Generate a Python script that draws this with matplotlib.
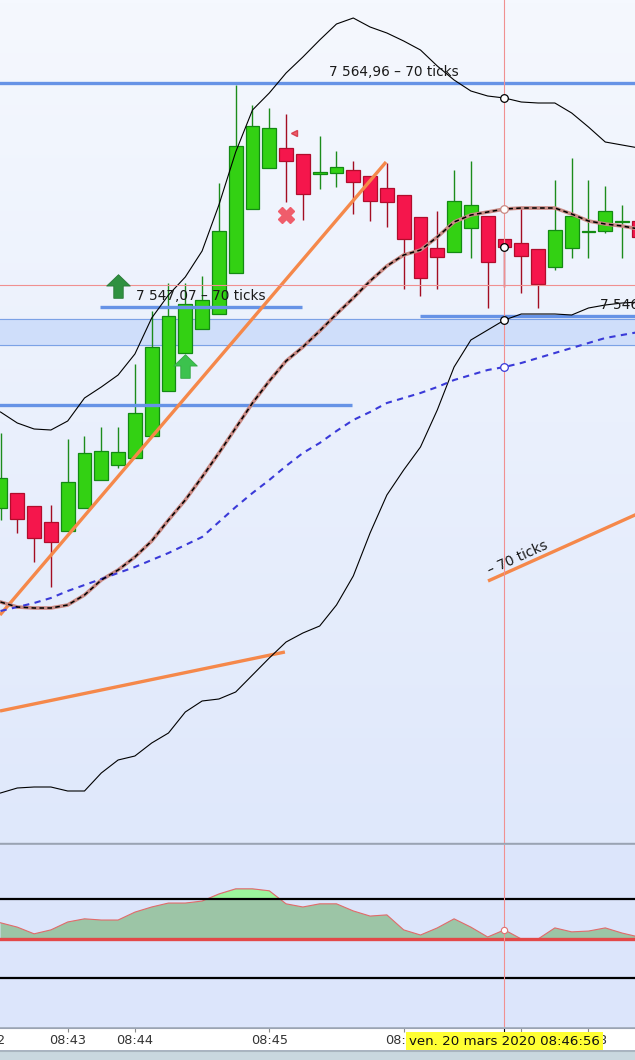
import numpy as np
import matplotlib
matplotlib.use('Agg')
import matplotlib.pyplot as plt
from matplotlib.path import Path
from matplotlib.patches import Rectangle
from matplotlib.colors import LinearSegmentedColormap

plt.rcParams['font.family'] = ['DejaVu Sans']

# ---------------- data ----------------
opens = [7530.96, 7532.16, 7531.12, 7529.84, 7529.12, 7530.96, 7533.20, 7534.40, 7534.96, 7536.72,
         7540.32, 7543.36, 7545.28, 7546.48, 7549.76, 7554.88, 7558.16, 7559.76, 7559.28, 7557.68,
         7557.76, 7558.00, 7557.52, 7556.56, 7556.00, 7554.24, 7551.76, 7551.44, 7553.36, 7554.32,
         7552.48, 7552.16, 7551.68, 7550.24, 7551.76, 7553.04, 7553.12, 7553.84, 7553.92]
highs = [7536.96, 7532.16, 7531.12, 7531.20, 7536.48, 7536.72, 7537.44, 7537.44, 7542.48, 7546.72,
         7548.96, 7548.96, 7549.52, 7556.96, 7564.80, 7563.20, 7562.96, 7562.48, 7559.28, 7560.72,
         7559.52, 7558.72, 7557.52, 7558.56, 7556.00, 7554.24, 7554.72, 7558.00, 7558.72, 7554.32,
         7552.48, 7554.96, 7551.68, 7557.20, 7558.96, 7557.20, 7556.72, 7555.20, 7553.92]
lows = [7530.00, 7528.96, 7526.64, 7524.64, 7529.12, 7530.96, 7533.20, 7534.16, 7534.96, 7536.72,
        7540.32, 7543.36, 7545.28, 7546.48, 7549.76, 7554.88, 7558.16, 7555.44, 7554.00, 7556.48,
        7556.64, 7554.48, 7553.92, 7553.44, 7548.48, 7547.92, 7548.48, 7551.44, 7550.96, 7546.96,
        7548.64, 7548.16, 7546.96, 7550.00, 7550.96, 7550.96, 7552.96, 7550.96, 7552.40]
closes = [7533.36, 7530.08, 7528.56, 7528.24, 7533.04, 7535.36, 7535.52, 7535.44, 7538.56, 7543.84,
          7546.32, 7547.28, 7547.60, 7553.12, 7559.92, 7561.52, 7561.36, 7558.72, 7556.08, 7557.84,
          7558.24, 7557.04, 7555.52, 7555.44, 7552.48, 7549.36, 7551.04, 7555.52, 7555.20, 7550.64,
          7551.84, 7551.12, 7548.88, 7553.20, 7554.32, 7553.12, 7554.72, 7553.92, 7552.64]

bb_upper = [7538.64, 7537.76, 7537.28, 7537.20, 7537.92, 7539.76, 7540.64, 7541.60, 7543.28, 7546.16,
            7548.00, 7549.44, 7551.52, 7555.20, 7559.44, 7562.80, 7564.16, 7565.76, 7567.04, 7568.40,
            7569.68, 7570.16, 7569.44, 7568.96, 7568.32, 7567.60, 7566.32, 7565.20, 7564.32, 7563.92,
            7563.76, 7563.44, 7563.36, 7563.36, 7562.56, 7561.44, 7560.24, 7560.00, 7559.76]
bb_mid = [7523.44, 7523.04, 7522.96, 7522.96, 7523.20, 7524.00, 7525.20, 7526.00, 7527.04, 7528.32,
          7530.00, 7531.60, 7533.44, 7535.36, 7537.36, 7539.36, 7541.12, 7542.72, 7543.84, 7545.12,
          7546.48, 7547.76, 7549.12, 7550.32, 7551.20, 7551.60, 7552.64, 7553.84, 7554.40, 7554.64,
          7554.88, 7554.96, 7554.96, 7554.96, 7554.48, 7553.92, 7553.68, 7553.52, 7553.28]
bb_lower = [7508.16, 7508.56, 7508.64, 7508.64, 7508.32, 7508.32, 7509.76, 7510.80, 7511.12, 7512.16,
            7512.96, 7514.64, 7515.52, 7515.68, 7516.24, 7517.60, 7518.96, 7520.24, 7520.96, 7521.52,
            7523.20, 7525.52, 7528.96, 7532.00, 7534.00, 7535.84, 7538.80, 7542.24, 7544.40, 7545.20,
            7546.00, 7546.48, 7546.48, 7546.48, 7546.40, 7546.96, 7547.20, 7547.36, 7547.44]
ma_slow = [7522.72, 7523.04, 7523.36, 7523.76, 7524.32, 7524.80, 7525.28, 7525.76, 7526.24, 7526.80,
           7527.36, 7528.00, 7528.64, 7529.84, 7531.04, 7532.16, 7533.20, 7534.32, 7535.36, 7536.16,
           7537.12, 7538.00, 7538.64, 7539.36, 7539.76, 7540.16, 7540.64, 7541.20, 7541.60, 7542.00,
           7542.24, 7542.56, 7542.96, 7543.36, 7543.76, 7544.16, 7544.56, 7544.80, 7545.04]
osc = [41, 30, 13, 23, 43, 51, 48, 48, 68, 81,
       91, 91, 96, 114, 127, 127, 122, 89, 81, 89,
       89, 71, 58, 61, 23, 10, 28, 51, 30, 5,
       23, 0, 0, 28, 18, 20, 28, 15, 5]

level_price = [7564.96, 7547.07, 7539.20, 7546.32]
level_from = [-2.0, 5.92, -2.0, 24.97]
level_to = [60.0, 17.95, 20.92, 60.0]
level_text = ['7 564,96 – 70 ticks', '7 547,07 – 70 ticks', '', '7 546,32 – 70 ticks']
level_text_x = [23.4, 11.94, 0.0, 39.55]

zone_low = 7544.00
zone_high = 7546.08

trend_x0 = [-0.03, -0.03, 29.02]
trend_y0 = [7522.40, 7514.72, 7525.12]
trend_x1 = [22.95, 16.93, 37.9]
trend_y1 = [7558.64, 7519.44, 7530.48]
trend_text = '– 70 ticks'
trend_text_x = 30.8
trend_text_y = 7527.0

buy_x = [7, 11]
buy_y = [7548.72, 7542.32]
exit_x = [17]
exit_y = [7554.40]
flag_x = [17.45]
flag_y = [7560.96]

cursor_bar = 30
cursor_price = 7548.80
osc_levels = [100, -100]

tick_pos = [-0.8, 4, 8, 16, 24, 31, 35]
tick_labels = ['08:42', '08:43', '08:44', '08:45', '08:46', '', '08:48']
cursor_label = 'ven. 20 mars 2020 08:46:56'

# ---------------- figure ----------------
W, H = 635, 1060
fig = plt.figure(figsize=(W / 100, H / 100), dpi=100)
fig.patch.set_facecolor('#a9b3c2')

XL = (-0.03, 37.77)
ax = fig.add_axes([0, (H - 843) / H, 1, 843 / H])
ai = fig.add_axes([0, (H - 1027) / H, 1, 182 / H])
axx = fig.add_axes([0, (H - 1050) / H, 1, 22 / H])
abar = fig.add_axes([0, 0, 1, 9 / H])

for a in (ax, ai, axx, abar):
    a.set_xlim(*XL)
    a.set_xticks([])
    a.set_yticks([])
    for s in a.spines.values():
        s.set_visible(False)

YL = (7504.16, 7571.6)
ax.set_ylim(*YL)

# gradient background
cmap = LinearSegmentedColormap.from_list('bg', ['#dfe8fb', '#f5f8fe'])
grad = np.linspace(0, 1, 256).reshape(-1, 1)
ax.imshow(grad, extent=[XL[0], XL[1], YL[0], YL[1]], origin='lower', aspect='auto',
          cmap=cmap, zorder=0)
ax.set_xlim(*XL)
ax.set_ylim(*YL)

x = np.arange(len(opens))
o = np.array(opens); h = np.array(highs); l = np.array(lows); c = np.array(closes)
up = c >= o

# zone
ax.axhspan(zone_low, zone_high, color='#cfdefa', zorder=1)
ax.axhline(zone_low, color='#7ba2e6', lw=0.8, zorder=1.1)
ax.axhline(zone_high, color='#7ba2e6', lw=0.8, zorder=1.1)

# candles
wick_col = np.where(up, '#1c8c1c', '#a30d22')
ax.vlines(x, l, h, colors=wick_col, lw=1.0, zorder=3)
body_bottom = np.minimum(o, c)
body_h = np.maximum(np.abs(c - o), 0.09)
ax.bar(x[up], body_h[up], bottom=body_bottom[up], width=0.82, color='#33d113',
       edgecolor='#138a13', linewidth=0.9, zorder=4)
ax.bar(x[~up], body_h[~up], bottom=body_bottom[~up], width=0.82, color='#f5164c',
       edgecolor='#b00d2c', linewidth=0.9, zorder=4)

# levels
for p, a0, a1, t, tx in zip(level_price, level_from, level_to, level_text, level_text_x):
    ax.plot([a0, a1], [p, p], color='#6693e6', lw=2.4, zorder=5, solid_capstyle='butt')
    if t:
        ax.text(tx, p + 0.3, t, ha='center', va='bottom', fontsize=9.8, color='#1a1a1a',
                zorder=9, clip_on=True)

# trend lines
for x0, y0, x1, y1 in zip(trend_x0, trend_y0, trend_x1, trend_y1):
    ax.plot([x0, x1], [y0, y1], color='#f5884a', lw=2.4, zorder=6, solid_capstyle='butt')
ax.text(trend_text_x, trend_text_y, trend_text, rotation=24.5, rotation_mode='anchor',
        ha='center', va='center', fontsize=9.8, color='#1a1a1a', zorder=9)

# bands & averages
ax.plot(x, bb_upper, color='black', lw=0.8, zorder=7)
ax.plot(x, bb_lower, color='black', lw=0.8, zorder=7)
ax.plot(x, bb_mid, color='#c98a84', lw=2.6, zorder=7, solid_joinstyle='round')
ax.plot(x, bb_mid, color='black', lw=1.1, dashes=(3, 2.2), zorder=7.1)
ax.plot(x, ma_slow, color='#3a3ad8', lw=1.5, dashes=(3, 2.6), zorder=7)

# crosshair
ax.axhline(cursor_price, color='#f09090', lw=0.8, zorder=8)
ax.axvline(cursor_bar, color='#f09090', lw=0.8, zorder=8)
ai.axvline(cursor_bar, color='#f09090', lw=0.8, zorder=8)
k = cursor_bar
for val, ec in [(bb_upper[k], 'black'), (closes[k], 'black'), (bb_lower[k], 'black'),
                (bb_mid[k], '#c98a84'), (ma_slow[k], '#3a3ad8')]:
    ax.plot([k], [val], 'o', ms=5.5, mfc='white', mec=ec, mew=0.9, zorder=10)

# signals
arrow = Path([(-0.2, -0.5), (0.2, -0.5), (0.2, 0.02), (0.5, 0.02), (0.0, 0.5),
              (-0.5, 0.02), (-0.2, 0.02), (-0.2, -0.5)], closed=True)
ax.plot(buy_x[:1], buy_y[:1], ls='none', marker=arrow, ms=17, mfc='#2f9140', mec='#2a7a38',
        mew=0.6, zorder=9)
ax.plot(buy_x[1:], buy_y[1:], ls='none', marker=arrow, ms=17, mfc='#3cc24e', mec='#33a843',
        mew=0.6, zorder=9)
ax.plot(exit_x, exit_y, ls='none', marker='X', ms=11, mfc='#ef5d6b', mec='#ef5d6b', zorder=9)
ax.plot(flag_x, flag_y, ls='none', marker='<', ms=5, mfc='#ef5d6b', mec='#d8404f', zorder=9)

# main/indicator separator
ax.spines['bottom'].set_visible(True)
ax.spines['bottom'].set_color('#9aa3b3')
ax.spines['bottom'].set_linewidth(1.0)

# ---------------- indicator ----------------
ai.set_facecolor('#dce5fb')
ai.set_ylim(-223, 238)
v = np.array(osc, dtype=float)
ai.fill_between(x, 0, v, color='#9cc5a6', lw=0, zorder=2)
ai.fill_between(x, osc_levels[0], v, where=v > osc_levels[0], interpolate=True,
                color='#9cf59c', lw=0, zorder=2.1)
ai.plot(x, v, color='#e26a6a', lw=0.8, zorder=3)
for lv in osc_levels:
    ai.axhline(lv, color='black', lw=1.6, zorder=4)
ai.axhline(0, color='#e34848', lw=2.4, zorder=4)
ai.plot([cursor_bar], [osc[cursor_bar]], 'o', ms=4.5, mfc='white', mec='#e07070', mew=0.8, zorder=10)

# ---------------- x axis strip ----------------
axx.set_facecolor('white')
axx.set_ylim(0, 1)
axx.spines['top'].set_visible(True)
axx.spines['top'].set_color('#9aa3b3')
axx.vlines(tick_pos[1:], 0.8, 1.0, colors='#8a8a8a', lw=0.8)
axx.vlines([cursor_bar], 0.8, 1.0, colors='black', lw=0.8)
for tp, tl in zip(tick_pos, tick_labels):
    if tl:
        axx.text(tp, 0.42, tl, ha='center', va='center', fontsize=9.3, color='#333333',
                 clip_on=False)
axx.add_patch(Rectangle((24.14, 0.0), 11.72, 0.8, facecolor='#ffff33', edgecolor='none',
                        zorder=5))
axx.text(cursor_bar, 0.39, cursor_label, ha='center', va='center', fontsize=9.6,
         color='#111111', zorder=6)

abar.set_facecolor('#c9d8df')
abar.set_ylim(0, 1)
abar.spines['top'].set_visible(True)
abar.spines['top'].set_color('#a9b6bf')

fig.savefig('out.png', dpi=100)
